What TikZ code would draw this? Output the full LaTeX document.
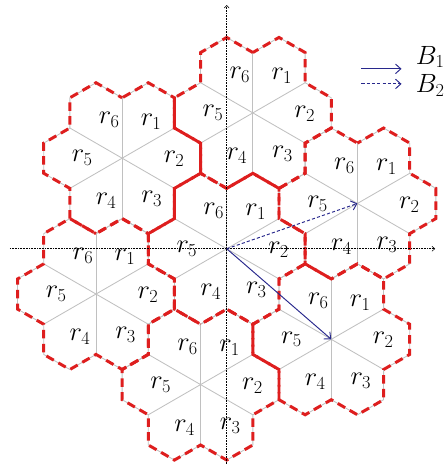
\documentclass[tikz,border=0pt]{standalone}
\usepackage{xcolor}
\usepackage{amsmath, amsfonts, amssymb}
\usepackage{tikz}
\usetikzlibrary{arrows.meta, calc}

\definecolor{cellred}{RGB}{222,30,30}
\definecolor{basisblue}{RGB}{40,40,140}
\definecolor{raygray}{RGB}{192,192,192}

\begin{document}
\begin{tikzpicture}[
    clusterline/.style={draw=raygray, line width=0.8pt},
    clusteredge/.style={draw=cellred, line width=2.8pt, dash pattern=on 8pt off 5pt},
    axisline/.style={densely dotted, line width=0.5pt, -{To[length=3pt,width=5pt]}},
    basis/.style={draw=basisblue, line width=0.9pt, -{Straight Barb[length=5pt,width=9pt]}},
    cellname/.style={font=\fontsize{23}{27}\selectfont, inner sep=0pt}
]
    \useasboundingbox (-7.51,-7.13) rectangle (7.22,8.24);
    % centres of the seven clusters
    \foreach \n/\cx/\cy in {0/0/0, 1/0.866/4.5, 2/4.330/1.5, 3/3.464/-3,
                            4/-0.866/-4.5, 5/-4.330/-1.5, 6/-3.464/3}
        \coordinate (c\n) at (\cx,\cy);
    % gray sectors and outlines
    \foreach \n in {0,...,6} {
        \begin{scope}[shift={(c\n)}]
            \foreach \k in {0,...,5}
                \draw[clusterline] (0,0) -- (90-60*\k:2);
            \draw[clusterline] (90:2) \foreach \k in {0,...,5} {
                -- (70.89-60*\k:2.6458) -- (49.11-60*\k:2.6458) -- (30-60*\k:2)} -- cycle;
        \end{scope}
    }
    % red cluster borders
    \foreach \n in {0,...,6} {
        \begin{scope}[shift={(c\n)}]
            \draw[clusteredge, dash phase=2*\n pt] (90:2) \foreach \k in {0,...,5} {
                -- (70.89-60*\k:2.6458) -- (49.11-60*\k:2.6458) -- (30-60*\k:2)} -- cycle;
        \end{scope}
    }
    % axes
    \coordinate (xstart) at (-7.18,0);
    \coordinate (xend) at (6.9,0);
    \coordinate (ystart) at (0,-7.13);
    \coordinate (yend) at (0,8.07);
    \draw[axisline] (xstart) -- (xend);
    \draw[axisline] (ystart) -- (yend);
    % sector names
    \foreach \n in {0,...,6}
        \foreach \i/\dx/\dy in {1/0.96/1.22, 2/1.72/-0.03, 3/0.98/-1.36,
                                4/-0.53/-1.42, 5/-1.32/0, 6/-0.43/1.26}
            \node[cellname] (r\i-\n) at ($(c\n)+(\dx,\dy)$) {$r_{\i}$};
    % basis vectors
    \draw[basis] (c0) -- (c3);
    \draw[basis, densely dashed] (c0) -- (c2);
    % legend
    \coordinate (leg1) at (4.46,5.96);
    \coordinate (leg1e) at (5.79,5.96);
    \coordinate (leg2) at (4.46,5.46);
    \coordinate (leg2e) at (5.79,5.46);
    \draw[basis] (leg1) -- (leg1e);
    \draw[basis, densely dashed] (leg2) -- (leg2e);
    \node[cellname, anchor=base west] (b1) at (6.26,6.12) {$B_1$};
    \node[cellname, anchor=base west] (b2) at (6.26,5.18) {$B_2$};
\end{tikzpicture}
\end{document}
